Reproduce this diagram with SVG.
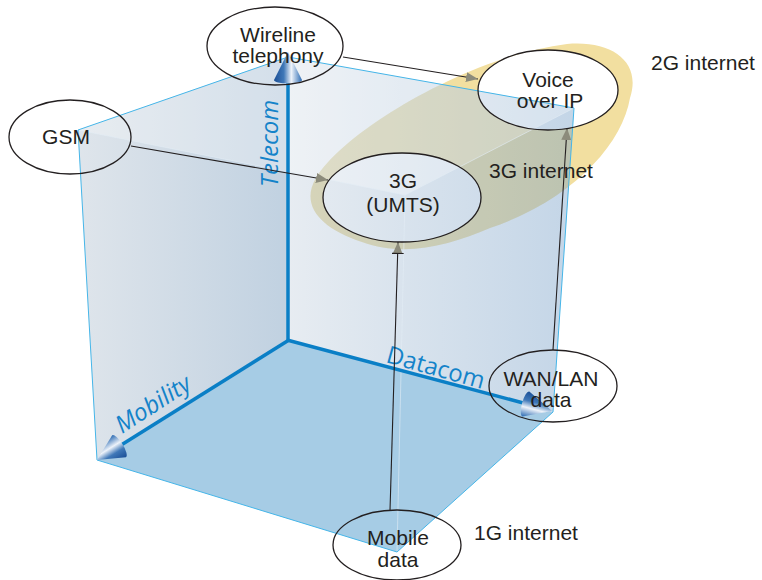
<svg xmlns="http://www.w3.org/2000/svg" width="762" height="580" viewBox="0 0 762 580">
<defs>
<style>
.nd{fill:none;stroke:#231f20;stroke-width:1.3}
.lbl{font-family:"Liberation Sans",Arial,Helvetica,sans-serif;font-size:21px;fill:#231f20;text-anchor:middle}
.free{font-family:"Liberation Sans",Arial,Helvetica,sans-serif;font-size:21px;fill:#231f20}
.conn line{stroke:#231f20;stroke-width:1.1;fill:none}
.axis{stroke:#0a7fc6;stroke-width:3.5;fill:none}
.edge{stroke:#45b5e8;stroke-width:1;fill:none}
.faint{stroke:#e2edf5;stroke-width:1;fill:none;opacity:0.6}
.axlbl{font-family:"Open Sans","Liberation Sans",sans-serif;fill:#1483c9;font-size:24px}
</style>
<linearGradient id="gL" x1="78" y1="0" x2="288" y2="0" gradientUnits="userSpaceOnUse">
<stop offset="0" stop-color="#c1cdd9"/><stop offset="1" stop-color="#87a7c5"/>
</linearGradient>
<linearGradient id="gR" x1="288" y1="0" x2="574" y2="0" gradientUnits="userSpaceOnUse">
<stop offset="0" stop-color="#d1dbe5"/><stop offset="1" stop-color="#8dafd1"/>
</linearGradient>
<linearGradient id="cone" x1="0" y1="0" x2="1" y2="0">
<stop offset="0" stop-color="#1b4f96"/><stop offset="0.35" stop-color="#3f78b8"/><stop offset="0.62" stop-color="#eef3fa"/><stop offset="1" stop-color="#2c6bb3"/>
</linearGradient>
<clipPath id="cubeClip"><polygon points="78,130 288,57 574,108 553,412 397,552 97,460"/></clipPath>
<path id="bandShape" fill-rule="evenodd" d="M567,44 C612,40 642,62 630,98 C622,145 572,200 490,228 C450,245 405,258 362,242 C320,228 300,205 316,178 C345,130 470,56 567,44 Z M323,197.5 a79,44.5 0 1 0 158,0 a79,44.5 0 1 0 -158,0 Z M478,90 a70,40 0 1 0 140,0 a70,40 0 1 0 -140,0 Z"/>
<marker id="ah" viewBox="0 0 12 10" refX="12" refY="5" markerWidth="12" markerHeight="10" markerUnits="userSpaceOnUse" orient="auto">
<path d="M0,0 L12,5 L0,10 Z" fill="#8c8b7b"/>
</marker>
<marker id="ahT" viewBox="0 0 12 12" refX="12" refY="6" markerWidth="12" markerHeight="12" markerUnits="userSpaceOnUse" orient="auto">
<path d="M0,1 L12,6 L0,11 Z" fill="#8c8b7b"/>
<path d="M0.5,0 L0.5,12" stroke="#231f20" stroke-width="1.2"/>
</marker>
</defs>

<!-- 3G internet band (holes where the nodes sit) -->
<g id="band">
<use href="#bandShape" fill="#f2dfa0"/>
</g>

<!-- cube -->
<g id="cube">
<polygon points="78,130 288,57 288,340 97,460" fill="url(#gL)" fill-opacity="0.52"/>
<polygon points="288,57 574,108 553,412 288,340" fill="url(#gR)" fill-opacity="0.52"/>
<polygon points="288,340 553,412 397,552 97,460" fill="#a6cce5"/>
<polygon points="78,130 288,57 574,108 405,195" fill="#ffffff" fill-opacity="0.3"/>
<use href="#bandShape" fill="#b9b98f" fill-opacity="0.2" clip-path="url(#cubeClip)"/>
<polyline class="faint" points="78,130 405,195 574,108"/>
<line class="faint" x1="405" y1="195" x2="397" y2="552"/>
<polygon class="edge" points="78,130 288,57 574,108 553,412 397,552 97,460"/>
</g>

<!-- axes -->
<g id="axes">
<line class="axis" x1="288" y1="341" x2="288" y2="79"/>
<line class="axis" x1="289" y1="340" x2="118" y2="447"/>
<line class="axis" x1="287" y1="340" x2="527" y2="404"/>
<path d="M0,0 L-14,28 A14,3.5 0 0 0 14,28 Z" fill="url(#cone)" transform="translate(288,52)"/>
<path d="M0,0 L-13,26 A13,4 0 0 0 13,26 Z" fill="url(#cone)" transform="translate(97,460) rotate(-122)"/>
<path d="M0,0 L-13,27 A13,4 0 0 0 13,27 Z" fill="url(#cone)" transform="translate(552,411) rotate(105)"/>
<text class="axlbl" font-style="italic" transform="translate(278,187) rotate(-90)">Telecom</text>
<text class="axlbl" font-style="italic" transform="translate(122,434) rotate(-33)">Mobility</text>
<text class="axlbl" transform="translate(385,362) rotate(15.5)">Datacom</text>
</g>

<!-- connectors -->
<g id="connectors" class="conn">
<line x1="343" y1="57" x2="478" y2="79" marker-end="url(#ah)"/>
<line x1="131" y1="146" x2="328" y2="180" marker-end="url(#ah)"/>
<line x1="390" y1="511" x2="398" y2="242" marker-end="url(#ahT)"/>
<line x1="553" y1="350" x2="567" y2="128" marker-end="url(#ah)"/>
</g>

<!-- nodes -->
<g id="wireline">
<ellipse class="nd" cx="275" cy="46" rx="68" ry="39"/>
<text class="lbl" x="278" y="42">Wireline</text>
<text class="lbl" x="278" y="63">telephony</text>
</g>
<g id="gsm">
<ellipse class="nd" cx="70" cy="137" rx="61" ry="37"/>
<text class="lbl" x="66" y="144">GSM</text>
</g>
<g id="umts">
<ellipse class="nd" cx="402" cy="197.5" rx="79" ry="44.5"/>
<text class="lbl" x="403" y="188">3G</text>
<text class="lbl" x="403" y="212">(UMTS)</text>
</g>
<g id="voip">
<ellipse class="nd" cx="548" cy="90" rx="70" ry="40"/>
<text class="lbl" x="548" y="87">Voice</text>
<text class="lbl" x="550" y="108">over IP</text>
</g>
<g id="wanlan">
<ellipse class="nd" cx="553" cy="386" rx="64" ry="36"/>
<text class="lbl" x="551" y="386">WAN/LAN</text>
<text class="lbl" x="551" y="407">data</text>
</g>
<g id="mobiledata">
<ellipse class="nd" cx="397" cy="545" rx="64" ry="35"/>
<text class="lbl" x="398" y="545">Mobile</text>
<text class="lbl" x="398" y="567">data</text>
</g>

<!-- generation labels -->
<g id="labels">
<text class="free" x="651" y="70">2G internet</text>
<text class="free" x="489" y="178">3G internet</text>
<text class="free" x="474" y="540">1G internet</text>
</g>
</svg>
